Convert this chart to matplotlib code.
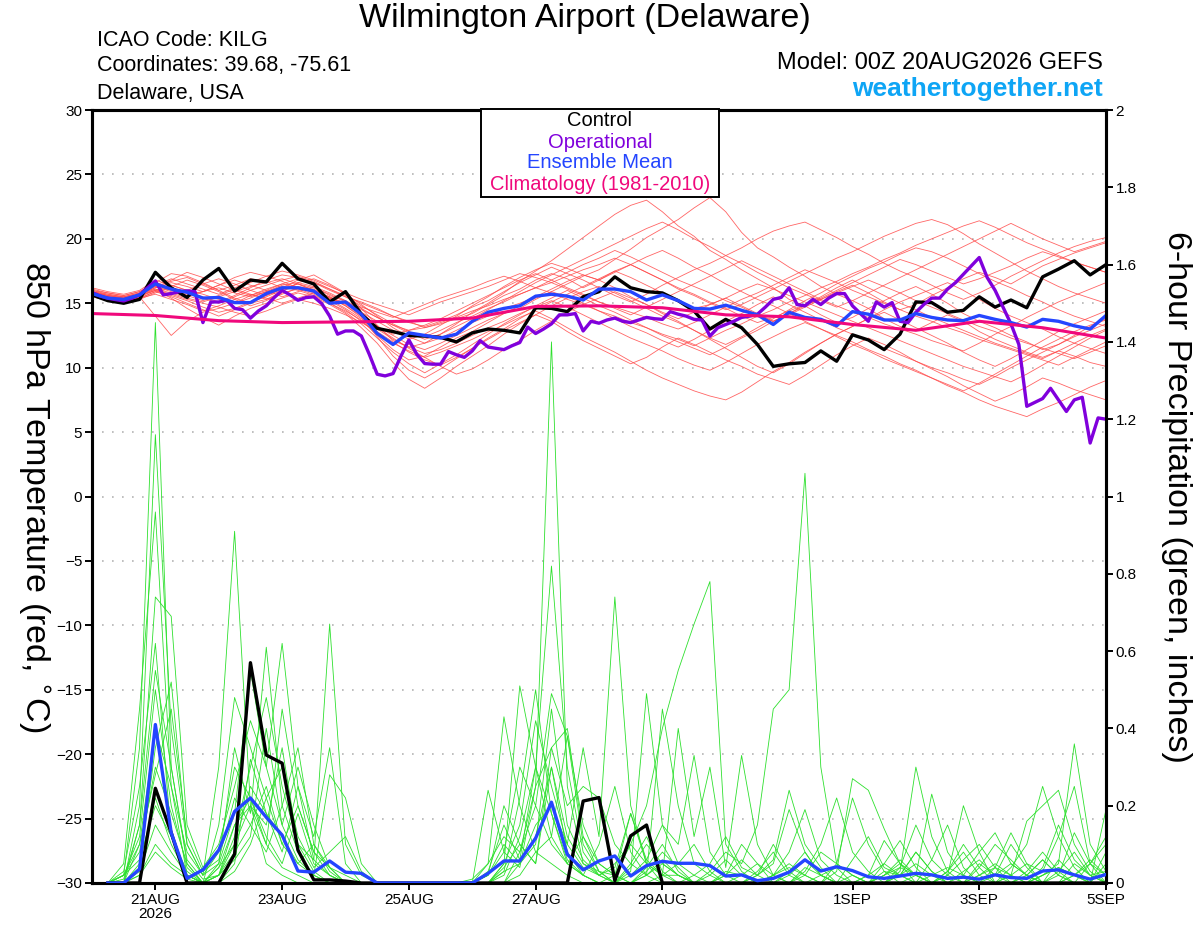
import numpy as np
import matplotlib.pyplot as plt
from matplotlib.patches import Rectangle

plt.rcParams['font.family'] = ['Liberation Sans', 'DejaVu Sans']

# Time axis in days after 00Z 20AUG2026
t6 = np.arange(65) * 0.25          # 6-hourly temperature
t3 = np.arange(129) * 0.125        # 3-hourly operational run
tp = np.arange(1, 65) * 0.25       # 6-hour precipitation totals
tday = np.arange(17)               # daily climatology

tick_pos = [1, 3, 5, 7, 9, 12, 14, 16]
tick_lab = ['21AUG\n2026', '23AUG', '25AUG', '27AUG', '29AUG', '1SEP', '3SEP', '5SEP']

# 850 hPa temperature (C)
control_t = [15.65, 15.2, 15.0, 15.3, 17.4, 16.2, 15.45, 16.8, 17.7, 15.95, 16.8, 16.65, 18.1,
             16.9, 16.5, 15.1, 15.9, 14.15, 13.05, 12.8, 12.5, 12.45, 12.35, 12.0, 12.7, 13.0,
             12.9, 12.7, 14.65, 14.6, 14.35, 15.5, 15.9, 17.05, 16.2, 15.9, 15.8, 15.2, 14.4,
             13.0, 13.75, 13.1, 11.8, 10.1, 10.3, 10.4, 11.3, 10.5, 12.55, 12.15, 11.4, 12.6,
             15.1, 15.05, 14.3, 14.45, 15.5, 14.7, 15.25, 14.65, 17.05, 17.65, 18.3, 17.2, 18.0]

mean_t = [15.75, 15.4, 15.3, 15.65, 16.5, 16.1, 15.85, 15.4, 15.45, 15.05, 15.05, 15.75, 16.2,
          16.2, 15.95, 15.0, 15.1, 14.15, 12.65, 11.8, 12.7, 12.5, 12.3, 12.6, 13.6, 14.3,
          14.6, 14.8, 15.55, 15.7, 15.55, 15.25, 16.1, 16.1, 15.9, 15.25, 15.65, 15.2, 14.6,
          14.55, 14.85, 14.45, 14.1, 13.35, 14.3, 13.9, 13.75, 13.25, 14.35, 14.15, 13.7, 13.7,
          14.2, 13.9, 13.7, 13.65, 14.05, 13.75, 13.5, 13.15, 13.75, 13.6, 13.25, 13.0, 14.05]

oper_t = [15.83, 15.57, 15.39, 15.28, 15.18, 15.39, 15.65, 16.2, 16.73, 15.65, 15.75, 15.9, 15.96, 15.9, 13.5, 15.1,
          15.1, 15.23, 14.6, 14.5, 13.84, 14.4, 14.8, 15.44, 16.0, 15.65, 15.23, 15.44, 15.5, 14.97, 14.0, 12.6,
          12.85, 12.85, 12.46, 11.04, 9.49, 9.36, 9.54, 10.9, 12.15, 11.04, 10.32, 10.27, 10.27, 11.25, 11.0, 10.8,
          11.3, 12.1, 11.6, 11.5, 11.4, 11.7, 11.95, 13.15, 12.65, 13.0, 13.4, 14.1, 14.1, 14.2, 12.85, 13.6,
          13.45, 13.7, 13.85, 13.6, 13.5, 13.7, 13.9, 13.8, 13.75, 14.35, 14.15, 14.0, 13.75, 13.7, 12.45, 13.1,
          13.35, 13.6, 13.9, 14.0, 14.15, 14.7, 15.3, 15.45, 16.2, 14.9, 14.8, 15.3, 14.9, 15.4, 15.75, 15.75,
          14.8, 14.2, 13.6, 15.1, 14.7, 15.05, 13.6, 13.5, 14.3, 14.9, 15.4, 15.4, 16.1, 16.6, 17.25, 17.9,
          18.55, 17.0, 16.0, 14.7, 13.4, 11.8, 7.0, 7.3, 7.6, 8.4, 7.5, 6.6, 7.5, 7.7, 4.15, 6.1,
          6.0]

clim_t = [14.2, 14.05, 13.65, 13.5, 13.55, 13.6, 13.85, 14.75, 14.8, 14.65, 14.1, 13.95, 13.35,
          12.9, 13.6, 13.1, 12.3]

members_t = [
    [15.8, 15.5, 15.3, 15.6, 16.4, 16.0, 15.7, 15.9, 16.2, 15.8, 15.5, 15.9, 16.4,
     16.6, 16.3, 15.6, 15.2, 14.3, 13.2, 12.6, 12.9, 13.1, 13.4, 13.8, 14.2, 14.9,
     15.6, 16.1, 16.8, 17.3, 16.9, 16.2, 16.8, 17.5, 17.0, 16.4, 15.8, 15.1, 14.6,
     14.9, 15.4, 14.8, 14.2, 13.6, 14.1, 14.7, 15.3, 15.9, 16.4, 15.8, 15.1, 14.5,
     14.9, 15.6, 16.2, 16.9, 17.4, 17.0, 16.5, 17.2, 17.9, 18.4, 18.9, 19.3, 19.7],
    [15.6, 15.3, 15.1, 15.4, 15.9, 16.3, 16.8, 16.4, 15.9, 15.3, 14.8, 15.2, 15.8,
     16.1, 15.7, 15.0, 14.4, 13.7, 12.5, 11.4, 10.6, 10.9, 11.6, 12.3, 12.8, 13.5,
     14.2, 14.6, 15.3, 15.9, 16.5, 17.1, 17.6, 18.4, 19.2, 20.1, 20.8, 21.5, 22.4,
     23.2, 22.1, 20.5, 19.3, 18.6, 17.8, 17.1, 16.3, 15.7, 15.2, 14.6, 13.8, 13.2,
     12.9, 13.5, 14.1, 13.6, 12.8, 12.2, 11.7, 11.2, 10.8, 11.3, 10.9, 10.4, 10.1],
    [16.1, 15.8, 15.6, 15.9, 16.6, 17.3, 17.1, 16.6, 16.0, 16.4, 16.9, 16.7, 16.2,
     16.8, 17.2, 16.5, 15.8, 14.6, 13.3, 12.1, 11.6, 11.9, 12.6, 13.4, 14.3, 15.0,
     15.8, 16.7, 17.5, 18.3, 19.2, 20.1, 21.0, 21.9, 22.6, 23.0, 22.1, 21.0, 20.2,
     19.1, 18.4, 17.6, 16.9, 16.2, 15.3, 14.8, 14.1, 13.5, 13.9, 14.6, 15.2, 15.8,
     16.3, 15.7, 15.0, 14.2, 13.6, 13.1, 12.5, 12.0, 11.4, 11.8, 12.5, 13.2, 13.8],
    [15.9, 15.6, 15.4, 15.7, 16.1, 15.6, 15.2, 14.7, 14.3, 14.6, 15.1, 15.5, 16.0,
     16.3, 16.1, 15.4, 14.8, 13.9, 12.4, 10.9, 9.8, 9.2, 9.9, 10.7, 11.5, 12.2,
     12.9, 13.5, 14.1, 13.6, 12.8, 12.1, 11.5, 10.9, 10.3, 10.8, 11.6, 12.3, 11.8,
     11.2, 10.6, 10.1, 9.5, 9.1, 8.7, 9.4, 10.2, 11.0, 11.7, 12.3, 11.8, 11.2,
     10.5, 9.9, 9.3, 8.6, 8.0, 7.4, 7.9, 8.5, 9.2, 8.8, 8.3, 7.9, 7.5],
    [15.5, 15.2, 15.0, 15.3, 15.8, 16.2, 15.9, 15.5, 15.1, 15.6, 16.2, 16.8, 17.2,
     17.0, 16.6, 16.0, 15.5, 15.1, 14.6, 14.0, 13.5, 13.2, 13.6, 14.1, 14.7, 15.2,
     15.9, 16.6, 17.2, 17.8, 17.3, 16.8, 16.2, 15.6, 15.1, 15.7, 16.4, 17.0, 17.6,
     18.1, 18.7, 19.3, 20.0, 20.6, 21.0, 21.3, 20.7, 20.1, 19.4, 18.8, 18.1, 17.5,
     17.0, 16.4, 15.8, 15.3, 15.8, 16.4, 17.1, 17.7, 18.3, 18.9, 19.4, 19.8, 20.1],
    [15.7, 15.4, 15.2, 15.5, 16.0, 15.4, 14.6, 13.9, 13.3, 14.0, 14.6, 15.0, 15.4,
     15.8, 15.5, 14.9, 14.2, 13.1, 11.9, 10.4, 9.1, 8.4, 9.2, 10.1, 10.9, 11.7,
     12.6, 13.4, 14.1, 14.8, 15.4, 15.9, 16.3, 15.8, 15.2, 14.6, 14.0, 13.5, 12.9,
     12.2, 11.5, 10.8, 10.1, 9.6, 10.3, 11.1, 11.9, 12.6, 13.2, 13.8, 14.3, 13.7,
     13.1, 12.5, 11.9, 11.2, 10.6, 10.1, 10.7, 11.4, 12.1, 12.8, 13.4, 13.9, 14.4],
    [16.0, 15.7, 15.5, 15.8, 16.3, 16.7, 17.0, 16.5, 16.0, 15.4, 15.0, 15.3, 15.9,
     16.6, 16.9, 16.4, 15.7, 14.9, 14.0, 13.1, 12.4, 11.9, 12.3, 12.9, 13.5, 14.0,
     14.6, 15.0, 15.5, 16.1, 16.7, 17.2, 16.8, 16.2, 15.5, 14.9, 14.2, 13.6, 12.9,
     12.3, 11.8, 12.4, 13.1, 13.8, 14.5, 15.2, 15.8, 16.5, 17.1, 17.7, 18.2, 18.8,
     19.3, 19.0, 18.5, 17.9, 17.3, 16.7, 16.2, 15.6, 15.1, 14.5, 14.0, 13.6, 13.2],
    [15.6, 15.3, 15.2, 15.5, 14.0, 12.5, 13.6, 14.3, 14.6, 15.0, 15.6, 16.1, 16.5,
     16.2, 15.8, 15.2, 14.5, 13.6, 12.7, 11.9, 11.3, 10.8, 11.2, 11.7, 12.2, 12.8,
     13.3, 13.9, 14.4, 13.8, 13.1, 12.4, 11.8, 11.2, 10.5, 9.8, 9.2, 8.7, 8.2,
     7.8, 7.5, 8.1, 8.9, 9.7, 10.4, 11.2, 11.9, 12.6, 13.2, 13.8, 14.5, 15.1,
     15.6, 16.1, 16.6, 16.0, 15.3, 14.6, 14.0, 13.5, 13.0, 12.4, 11.9, 11.5, 11.1],
    [15.9, 15.7, 15.5, 15.7, 16.2, 16.6, 16.3, 15.9, 16.4, 17.0, 17.4, 17.1, 16.7,
     16.2, 15.9, 15.5, 15.0, 14.3, 13.6, 12.9, 12.2, 12.6, 13.3, 14.0, 14.8, 15.5,
     16.3, 17.0, 17.6, 18.1, 17.7, 17.2, 16.8, 17.4, 18.0, 18.6, 19.1, 18.5, 17.8,
     17.2, 16.5, 15.9, 15.3, 14.8, 14.2, 13.6, 13.0, 12.5, 12.0, 11.4, 10.9, 10.3,
     9.8, 9.2, 8.7, 8.2, 8.8, 9.5, 10.2, 10.9, 11.6, 12.2, 12.8, 13.3, 13.7],
    [15.7, 15.5, 15.3, 15.6, 16.0, 15.7, 15.3, 15.0, 14.7, 14.3, 14.0, 14.4, 14.9,
     15.3, 15.0, 14.6, 14.1, 13.5, 12.8, 12.0, 11.2, 10.6, 10.2, 10.8, 11.5, 12.3,
     13.0, 13.8, 14.5, 15.1, 15.7, 16.3, 16.9, 17.5, 18.0, 17.4, 16.8, 16.1, 15.6,
     15.0, 14.5, 14.9, 15.5, 16.1, 16.7, 17.3, 17.9, 18.5, 19.0, 19.6, 20.2, 20.7,
     21.2, 21.5, 21.1, 20.4, 19.6, 18.9, 18.2, 17.5, 16.9, 16.3, 15.8, 15.4, 15.0],
    [15.8, 15.4, 15.3, 15.6, 16.5, 16.1, 15.6, 15.2, 15.6, 16.1, 15.7, 15.3, 15.7,
     16.2, 16.0, 15.4, 14.9, 14.1, 13.2, 12.5, 11.8, 11.4, 11.9, 12.5, 13.1, 13.7,
     14.2, 14.8, 15.4, 15.9, 15.5, 15.0, 14.4, 13.8, 13.2, 12.7, 12.1, 11.6, 12.2,
     12.9, 13.6, 14.2, 14.9, 15.5, 14.9, 14.3, 13.7, 13.1, 12.6, 12.1, 11.5, 11.0,
     10.5, 10.0, 9.6, 9.1, 8.7, 9.3, 10.0, 10.6, 11.2, 11.8, 12.4, 12.9, 13.4],
    [16.2, 15.9, 15.7, 16.0, 16.8, 16.4, 16.0, 16.5, 16.9, 16.5, 16.0, 15.6, 16.1,
     16.5, 16.2, 15.7, 15.1, 14.5, 13.9, 13.3, 12.9, 13.3, 13.8, 14.4, 15.0, 15.6,
     16.2, 16.8, 17.3, 16.8, 16.2, 15.7, 15.1, 14.6, 14.1, 14.7, 15.3, 15.9, 16.5,
     17.1, 17.7, 18.3, 17.7, 17.1, 16.5, 15.9, 15.3, 14.8, 14.3, 13.9, 13.4, 13.0,
     12.6, 12.1, 11.7, 11.3, 11.9, 12.6, 13.2, 13.9, 14.5, 15.1, 15.6, 16.1, 16.6],
    [15.6, 15.4, 15.2, 15.4, 15.9, 15.5, 15.0, 14.5, 14.0, 14.5, 15.0, 15.6, 16.1,
     16.5, 16.0, 15.3, 14.6, 13.8, 13.0, 12.2, 11.6, 11.1, 11.4, 11.9, 12.5, 13.1,
     13.6, 14.2, 14.7, 15.2, 14.7, 14.1, 13.5, 12.9, 12.3, 11.8, 11.3, 10.7, 10.2,
     9.8, 10.4, 11.1, 11.8, 12.4, 13.0, 13.5, 13.0, 12.4, 11.8, 11.3, 10.7, 10.2,
     9.7, 9.2, 8.6, 8.1, 7.5, 7.0, 6.6, 6.2, 6.8, 7.3, 7.9, 8.5, 9.0],
    [15.9, 15.6, 15.4, 15.7, 16.2, 16.8, 17.4, 17.0, 16.5, 16.0, 15.6, 16.0, 16.5,
     16.9, 16.6, 16.1, 15.5, 14.8, 14.1, 13.4, 12.8, 12.4, 12.9, 13.5, 14.0, 14.6,
     15.1, 15.7, 16.2, 16.8, 17.4, 18.0, 18.5, 19.1, 18.6, 18.0, 17.4, 16.8, 16.3,
     15.8, 15.2, 14.7, 14.1, 13.6, 14.2, 14.8, 15.4, 16.0, 16.6, 17.2, 17.8, 18.4,
     18.0, 17.5, 17.0, 16.5, 16.9, 17.4, 17.9, 18.5, 19.0, 18.6, 18.2, 17.8, 17.4],
    [15.8, 15.6, 15.4, 15.6, 16.0, 16.4, 16.0, 15.7, 15.3, 15.0, 15.4, 15.9, 16.3,
     16.0, 15.6, 15.0, 14.3, 13.4, 12.3, 11.2, 10.3, 9.6, 10.3, 11.0, 11.8, 12.6,
     13.4, 14.1, 14.8, 15.4, 16.0, 15.4, 14.8, 14.3, 13.7, 13.1, 12.5, 12.0, 11.5,
     11.0, 11.6, 12.3, 12.9, 13.6, 14.2, 14.9, 15.5, 16.2, 16.8, 16.2, 15.6, 15.0,
     14.5, 13.9, 13.4, 12.9, 12.4, 11.9, 11.5, 11.1, 10.7, 11.3, 11.9, 12.5, 13.0],
    [15.7, 15.5, 15.4, 15.7, 16.3, 15.9, 15.5, 15.9, 16.4, 16.8, 16.4, 16.0, 15.5,
     15.9, 16.3, 15.8, 15.2, 14.6, 13.9, 13.3, 12.7, 12.2, 12.6, 13.2, 13.8, 14.5,
     15.2, 15.9, 16.6, 17.2, 17.8, 18.4, 19.0, 19.6, 20.2, 20.8, 21.3, 20.7, 20.0,
     19.4, 18.7, 18.1, 17.4, 16.8, 16.2, 15.7, 15.2, 14.7, 15.2, 15.8, 16.4, 17.0,
     17.6, 18.2, 18.8, 19.4, 20.0, 20.6, 21.2, 20.6, 20.0, 19.5, 19.0, 19.4, 19.8],
    [15.9, 15.6, 15.5, 15.8, 16.4, 16.9, 16.5, 16.1, 15.7, 16.2, 16.6, 17.1, 17.5,
     17.2, 16.8, 16.3, 15.8, 15.3, 14.9, 14.5, 14.1, 14.6, 15.1, 15.5, 15.9, 16.3,
     16.8, 17.3, 17.0, 16.6, 16.1, 15.6, 15.1, 14.7, 14.3, 13.9, 13.4, 13.0, 13.5,
     14.1, 14.7, 15.3, 15.8, 16.4, 17.0, 17.6, 17.1, 16.6, 16.0, 15.5, 15.0, 14.5,
     14.0, 13.6, 13.1, 12.7, 12.2, 11.8, 11.4, 11.0, 10.6, 10.2, 10.8, 11.4, 12.0],
    [15.6, 15.3, 15.1, 15.4, 15.7, 15.3, 14.9, 14.4, 14.8, 15.3, 15.7, 15.4, 15.0,
     15.4, 15.8, 15.4, 15.0, 14.7, 14.3, 13.9, 14.4, 14.9, 15.4, 15.8, 16.2, 16.7,
     17.1, 16.7, 16.2, 15.8, 15.3, 14.9, 14.4, 14.0, 13.5, 13.1, 12.6, 12.2, 11.7,
     12.3, 12.9, 13.4, 14.0, 14.5, 15.1, 15.6, 16.2, 16.7, 17.3, 17.8, 18.4, 18.9,
     19.5, 20.0, 20.5, 21.0, 21.4, 20.9, 20.3, 19.7, 19.2, 18.7, 18.2, 17.8, 17.4],
    [15.8, 15.5, 15.3, 15.6, 16.1, 15.8, 15.4, 15.1, 15.5, 15.9, 16.3, 16.6, 16.9,
     16.5, 16.0, 15.5, 14.8, 14.0, 13.1, 12.3, 11.5, 10.8, 10.1, 9.5, 9.9, 10.6,
     11.4, 12.1, 12.9, 13.6, 14.3, 14.9, 15.4, 15.9, 15.4, 14.9, 14.3, 13.8, 14.3,
     14.9, 15.4, 16.0, 16.5, 16.1, 15.6, 15.1, 14.6, 14.1, 13.6, 13.1, 12.6, 12.1,
     11.6, 11.1, 10.6, 10.1, 9.7, 9.3, 8.9, 9.5, 10.2, 10.9, 11.6, 12.3, 12.9],
    [16.0, 15.8, 15.6, 15.9, 16.6, 16.2, 15.8, 15.4, 15.0, 15.5, 16.0, 16.4, 16.8,
     17.1, 16.7, 16.1, 15.6, 15.0, 14.5, 14.0, 13.6, 13.1, 13.5, 13.9, 14.4, 14.8,
     15.3, 15.7, 16.2, 16.6, 17.1, 17.6, 18.0, 18.5, 18.0, 17.4, 16.8, 16.2, 15.7,
     15.1, 14.6, 14.0, 13.5, 13.9, 14.4, 14.9, 15.3, 15.8, 16.3, 16.8, 16.3, 15.8,
     15.2, 14.7, 14.2, 13.7, 13.2, 12.8, 12.3, 11.9, 11.5, 11.1, 10.7, 11.2, 11.7],
]

# 6-hour precipitation (inches)
control_p = [0, 0, 0, 0.245, 0.13, 0, 0, 0, 0.075, 0.57, 0.331, 0.31, 0.085, 0.008, 0.008, 0.005,
             0, 0, 0, 0, 0, 0, 0, 0, 0, 0, 0, 0, 0, 0, 0.212, 0.221,
             0.006, 0.122, 0.15, 0, 0, 0, 0, 0, 0, 0, 0, 0, 0, 0, 0, 0,
             0, 0, 0, 0, 0, 0, 0, 0, 0, 0, 0, 0, 0, 0, 0, 0]

mean_p = [0, 0, 0.036, 0.41, 0.13, 0.012, 0.034, 0.085, 0.185, 0.22, 0.17, 0.124, 0.031, 0.028, 0.057, 0.028,
          0.025, 0, 0, 0, 0, 0, 0, 0, 0.025, 0.057, 0.057, 0.116, 0.209, 0.074, 0.034, 0.057,
          0.07, 0.018, 0.045, 0.056, 0.051, 0.051, 0.045, 0.018, 0.021, 0.006, 0.012, 0.028, 0.06, 0.031, 0.042, 0.032,
          0.016, 0.012, 0.018, 0.025, 0.021, 0.012, 0.015, 0.01, 0.021, 0.014, 0.012, 0.031, 0.034, 0.021, 0.01, 0.022]

members_p = [
    [0, 0.02, 0.35, 1.45, 0.30, 0.05, 0, 0.02, 0.15, 0.22, 0.10, 0.04, 0.02, 0, 0, 0,
     0, 0, 0, 0, 0, 0, 0, 0, 0.02, 0.10, 0.05, 0.12, 0.30, 0.08, 0.02, 0,
     0, 0.05, 0.12, 0.03, 0, 0, 0.02, 0.06, 0.02, 0, 0, 0.03, 0.08, 0.02, 0, 0,
     0, 0.02, 0.05, 0, 0, 0.03, 0.10, 0.04, 0, 0, 0.02, 0.06, 0.02, 0, 0, 0],
    [0, 0, 0.20, 1.16, 0.40, 0.10, 0.02, 0.30, 0.91, 0.20, 0.05, 0.02, 0, 0, 0, 0,
     0, 0, 0, 0, 0, 0, 0, 0, 0, 0.03, 0.22, 0.50, 0.18, 0.05, 0.02, 0,
     0, 0, 0.03, 0.08, 0.04, 0, 0, 0.02, 0.10, 0.05, 0, 0, 0, 0.02, 0.04, 0,
     0, 0, 0.02, 0.08, 0.03, 0, 0, 0, 0.04, 0.13, 0.05, 0, 0, 0.02, 0.06, 0.02],
    [0, 0.05, 0.45, 0.96, 0.25, 0.02, 0, 0.05, 0.35, 0.18, 0.61, 0.20, 0.08, 0.02, 0, 0,
     0, 0, 0, 0, 0, 0, 0, 0, 0.05, 0.43, 0.20, 0.08, 0.05, 0.02, 0, 0,
     0.02, 0.18, 0.05, 0, 0, 0, 0, 0, 0.02, 0.05, 0.02, 0, 0, 0, 0.03, 0.27,
     0.24, 0.14, 0.05, 0.02, 0, 0, 0.03, 0.06, 0.02, 0, 0, 0.02, 0.04, 0.02, 0, 0],
    [0, 0, 0.15, 0.74, 0.69, 0.15, 0.04, 0.10, 0.25, 0.42, 0.30, 0.62, 0.25, 0.06, 0.02, 0,
     0, 0, 0, 0, 0, 0, 0, 0, 0, 0.05, 0.51, 0.30, 0.12, 0.38, 0.10, 0.03,
     0, 0, 0.02, 0.05, 0.02, 0, 0, 0, 0, 0.02, 0.06, 0.24, 0.10, 0.04, 0, 0,
     0, 0.05, 0.11, 0.04, 0, 0.02, 0.20, 0.08, 0, 0, 0, 0.02, 0.05, 0.36, 0.10, 0.03],
    [0, 0.03, 0.25, 0.62, 0.12, 0.02, 0, 0.15, 0.48, 0.35, 0.22, 0.10, 0.05, 0.02, 0, 0,
     0, 0, 0, 0, 0, 0, 0, 0, 0.24, 0.08, 0.04, 0.25, 1.40, 0.25, 0.05, 0.02,
     0, 0, 0.04, 0.10, 0.03, 0, 0, 0, 0, 0, 0.02, 0.05, 0.02, 0, 0, 0.02,
     0, 0, 0.03, 0.30, 0.12, 0.03, 0, 0, 0.02, 0.05, 0.02, 0, 0.03, 0.08, 0.02, 0],
    [0, 0, 0.10, 0.40, 0.25, 0.08, 0.02, 0.05, 0.18, 0.55, 0.30, 0.15, 0.30, 0.15, 0.04, 0,
     0, 0, 0, 0, 0, 0, 0, 0, 0, 0.02, 0.12, 0.30, 0.82, 0.30, 0.08, 0.02,
     0, 0.03, 0.49, 0.15, 0.05, 0.02, 0, 0, 0, 0.03, 0.08, 0.02, 0, 0, 0, 0,
     0, 0, 0, 0.02, 0.23, 0.08, 0.02, 0, 0, 0.04, 0.10, 0.25, 0.12, 0.04, 0, 0.19],
    [0, 0.02, 0.08, 0.30, 0.18, 0.05, 0, 0.02, 0.12, 0.30, 0.48, 0.25, 0.10, 0.06, 0.67, 0.10,
     0.02, 0, 0, 0, 0, 0, 0, 0, 0, 0.05, 0.15, 0.42, 0.25, 0.10, 0.35, 0.12,
     0.74, 0.20, 0.05, 0.02, 0, 0, 0, 0, 0, 0, 0, 0.02, 0.06, 0.02, 0, 0,
     0, 0.03, 0.02, 0, 0, 0.02, 0.06, 0.10, 0.04, 0, 0, 0.02, 0.04, 0.02, 0, 0],
    [0, 0, 0.05, 0.22, 0.10, 0.02, 0, 0.04, 0.10, 0.20, 0.15, 0.35, 0.10, 0.03, 0, 0,
     0, 0, 0, 0, 0, 0, 0, 0, 0, 0, 0.05, 0.15, 0.20, 0.10, 0.04, 0.02,
     0.05, 0.10, 0.20, 0.40, 0.55, 0.67, 0.78, 0.10, 0.03, 0, 0, 0, 0.02, 0.08, 0.05, 0.02,
     0, 0, 0.02, 0.05, 0.02, 0, 0, 0, 0, 0.02, 0.16, 0.20, 0.24, 0.10, 0.03, 0],
    [0, 0, 0.03, 0.15, 0.08, 0.02, 0, 0.02, 0.08, 0.15, 0.25, 0.10, 0.20, 0.08, 0.02, 0,
     0, 0, 0, 0, 0, 0, 0, 0, 0, 0, 0.02, 0.08, 0.12, 0.05, 0.02, 0,
     0, 0.04, 0.10, 0.05, 0.02, 0, 0.03, 0.08, 0.05, 0.15, 0.45, 0.50, 1.06, 0.30, 0.05, 0.02,
     0, 0.02, 0.04, 0.02, 0, 0, 0.02, 0.08, 0.13, 0.05, 0.02, 0, 0, 0.02, 0.05, 0.10],
    [0, 0.02, 0.12, 0.50, 0.20, 0.04, 0, 0, 0.05, 0.32, 0.18, 0.08, 0.25, 0.12, 0.35, 0.05,
     0, 0, 0, 0, 0, 0, 0, 0, 0.02, 0.08, 0.30, 0.20, 0.49, 0.38, 0.15, 0.05,
     0.02, 0, 0, 0.02, 0.05, 0.10, 0.03, 0, 0, 0, 0, 0, 0.03, 0.10, 0.22, 0.08,
     0.03, 0, 0, 0, 0.02, 0.04, 0.02, 0, 0, 0, 0.03, 0.08, 0.03, 0, 0, 0.05],
    [0, 0, 0.04, 0.35, 0.52, 0.10, 0.02, 0.08, 0.30, 0.22, 0.12, 0.05, 0.18, 0.05, 0.02, 0,
     0, 0, 0, 0, 0, 0, 0, 0, 0, 0, 0.08, 0.25, 0.35, 0.20, 0.25, 0.22,
     0.10, 0.05, 0.02, 0.45, 0.20, 0.05, 0.02, 0, 0, 0, 0.02, 0.04, 0.02, 0, 0, 0,
     0.02, 0.11, 0.05, 0.02, 0, 0, 0, 0.02, 0.04, 0.02, 0, 0, 0, 0.05, 0.02, 0],
    [0, 0, 0.02, 0.10, 0.05, 0.02, 0, 0.02, 0.06, 0.12, 0.40, 0.15, 0.06, 0.02, 0.28, 0.22,
     0.05, 0, 0, 0, 0, 0, 0, 0, 0, 0.04, 0.10, 0.05, 0.30, 0.12, 0.05, 0.03,
     0.02, 0.10, 0.05, 0.02, 0.40, 0.12, 0.30, 0.04, 0.33, 0.10, 0.02, 0, 0, 0, 0.05, 0.22,
     0.10, 0.03, 0, 0, 0, 0, 0, 0.04, 0.10, 0.06, 0.02, 0, 0.02, 0.13, 0.05, 0.02],
    [0, 0.02, 0.06, 0.20, 0.12, 0.03, 0, 0.04, 0.15, 0.20, 0.10, 0.45, 0.20, 0.08, 0.04, 0.02,
     0, 0, 0, 0, 0, 0, 0, 0.01, 0.05, 0.12, 0.08, 0.20, 0.10, 0.05, 0.12, 0.03,
     0, 0.02, 0.06, 0.15, 0.10, 0.33, 0.08, 0.02, 0, 0.02, 0.05, 0.19, 0.08, 0.02, 0, 0,
     0.02, 0.05, 0.02, 0, 0.06, 0.15, 0.04, 0, 0, 0.02, 0.05, 0.03, 0.12, 0.25, 0.05, 0],
    [0, 0, 0.02, 0.08, 0.04, 0.01, 0, 0, 0.03, 0.10, 0.22, 0.30, 0.12, 0.04, 0.08, 0.12,
     0.03, 0, 0, 0, 0, 0, 0, 0, 0.03, 0.15, 0.06, 0.30, 0.18, 0.06, 0.02, 0.10,
     0.25, 0.08, 0.02, 0, 0, 0.02, 0.05, 0.12, 0.04, 0.02, 0.10, 0.03, 0, 0, 0, 0.06,
     0.12, 0.04, 0.02, 0.08, 0.03, 0, 0, 0.02, 0.05, 0.02, 0, 0.04, 0.15, 0.06, 0.02, 0.03],
    [0, 0.01, 0.15, 0.55, 0.30, 0.06, 0.01, 0.02, 0.10, 0.25, 0.18, 0.12, 0.05, 0.10, 0.04, 0,
     0, 0, 0, 0, 0, 0, 0, 0, 0, 0.03, 0.05, 0.10, 0.45, 0.15, 0.06, 0.02,
     0.04, 0.18, 0.06, 0.02, 0.02, 0, 0, 0.02, 0.06, 0.02, 0, 0, 0.04, 0.02, 0, 0,
     0, 0, 0.04, 0.15, 0.06, 0.02, 0, 0.05, 0.02, 0.10, 0.04, 0, 0.06, 0.02, 0, 0.08],
    [0, 0.02, 0.10, 0.28, 0.45, 0.12, 0.03, 0.06, 0.22, 0.15, 0.08, 0.20, 0.35, 0.10, 0.03, 0,
     0, 0, 0, 0, 0, 0, 0, 0, 0.02, 0.20, 0.10, 0.05, 0.35, 0.40, 0.12, 0.05,
     0.02, 0, 0.02, 0.06, 0.02, 0, 0, 0.03, 0.02, 0, 0.02, 0.08, 0.19, 0.06, 0.02, 0,
     0, 0.02, 0.06, 0.02, 0, 0.03, 0.08, 0.02, 0, 0, 0.02, 0.06, 0.02, 0, 0.05, 0.12],
]

bad = [('t', k, len(m)) for k, m in enumerate(members_t) if len(m) != 65]
bad += [('p', k, len(m)) for k, m in enumerate(members_p) if len(m) != 64]
assert not bad, bad

c_red = '#ff4a4a'
c_green = '#2ee02e'
c_ctrl = 'black'
c_oper = '#8000dc'
c_mean = '#2445ff'
c_clim = '#f0087c'

fig = plt.figure(figsize=(12, 9.27), dpi=100)
ax = fig.add_axes([92 / 1200, 44 / 927, 1014 / 1200, 773 / 927])
ax2 = ax.twinx()

# temperature
for m in members_t:
    ax.plot(t6, m, color=c_red, lw=0.6, alpha=0.85, zorder=2)
ax.plot(t6, control_t, color=c_ctrl, lw=2.4, zorder=4)
ax.plot(t3, oper_t, color=c_oper, lw=2.4, zorder=5)
ax.plot(t6, mean_t, color=c_mean, lw=2.4, zorder=6)
ax.plot(tday, clim_t, color=c_clim, lw=2.2, zorder=7)

# precipitation
for m in members_p:
    ax2.plot(tp, m, color=c_green, lw=0.6, zorder=2)
ax2.plot(tp, control_p, color=c_ctrl, lw=2.4, zorder=4)
ax2.plot(tp, mean_p, color=c_mean, lw=2.4, zorder=5)

ax.set_xlim(0, 16)
ax.set_ylim(-30, 30)
ax2.set_ylim(0, 2)

ax.set_yticks(np.arange(-30, 31, 5))
ax2.set_yticks(np.arange(0, 2.01, 0.2))
ax2.set_yticklabels(['0', '0.2', '0.4', '0.6', '0.8', '1', '1.2', '1.4', '1.6', '1.8', '2'])
ax.set_xticks(tick_pos)
ax.set_xticklabels(tick_lab, linespacing=1.0)

for y in range(-25, 30, 5):
    ax.axhline(y, color='#b4b4b4', lw=1.2, ls=(0, (1, 5)), zorder=1)

for a in (ax, ax2):
    for s in a.spines.values():
        s.set_linewidth(2.2)
ax.tick_params(axis='both', direction='out', length=5, width=1.4, labelsize=11, pad=2)
ax2.tick_params(axis='y', direction='out', length=5, width=1.4, labelsize=11, pad=2)

ax.set_ylabel('850 hPa Temperature (red, $^{\\circ}$C)', fontsize=24.5, rotation=270,
              ha='center', va='center')
ax.yaxis.set_label_coords(-0.058, 0.5)
ax2.set_ylabel('6-hour Precipitation (green, inches)', fontsize=24.5, rotation=270,
               ha='center', va='center')
ax2.yaxis.set_label_coords(1.070, 0.5)

# header text
fig.text(585 / 1200, 1 - 18 / 927, 'Wilmington Airport (Delaware)', fontsize=24.5, ha='center', va='center')
fig.text(97 / 1200, 1 - 40 / 927, 'ICAO Code: KILG', fontsize=15.5, ha='left', va='center')
fig.text(97 / 1200, 1 - 66 / 927, 'Coordinates: 39.68, -75.61', fontsize=15.5, ha='left', va='center')
fig.text(97 / 1200, 1 - 93 / 927, 'Delaware, USA', fontsize=15.5, ha='left', va='center')
fig.text(1103 / 1200, 1 - 63 / 927, 'Model: 00Z 20AUG2026 GEFS', fontsize=17, ha='right', va='center')
fig.text(1103 / 1200, 1 - 89 / 927, 'weathertogether.net', fontsize=19, ha='right', va='center',
         color='#0ea5f5', fontweight='bold')

# legend box
fig.patches.append(Rectangle((481 / 1200, 1 - 197 / 927), 238 / 1200, 88 / 927,
                             transform=fig.transFigure, facecolor='white', edgecolor='black',
                             lw=1.4, zorder=5))
leg = [('Control', c_ctrl, 121), ('Operational', c_oper, 142),
       ('Ensemble Mean', c_mean, 163), ('Climatology (1981-2010)', c_clim, 185)]
for txt, col, yy in leg:
    fig.text(600 / 1200, 1 - yy / 927, txt, color=col, fontsize=14.5, ha='center', va='center', zorder=6)

fig.savefig('out.png', dpi=100)
